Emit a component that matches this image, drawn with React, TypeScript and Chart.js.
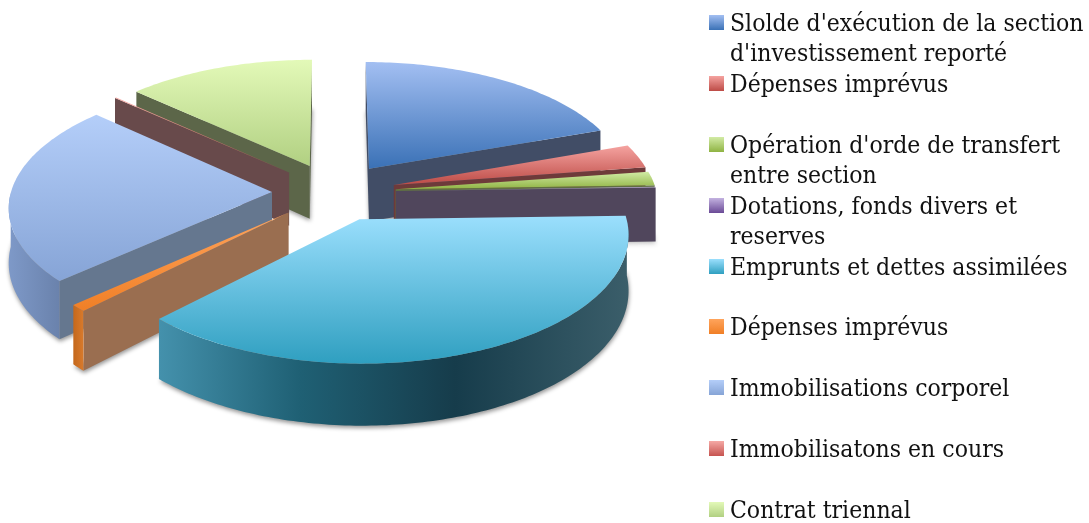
import React, { useEffect, useRef } from "react";
import { Chart, registerables } from "chart.js";

Chart.register(...registerables);

const categories = [
  "Slolde d'exécution de la section\nd'investissement reporté",
  "Dépenses imprévus",
  "Opération d'orde de transfert\nentre section",
  "Dotations, fonds divers et\nreserves",
  "Emprunts et dettes assimilées",
  "Dépenses imprévus",
  "Immobilisations corporel",
  "Immobilisatons en cours",
  "Contrat triennal",
];
const values = [19.5, 3.1, 1.8, 0.1, 37.7, 0.9, 23.5, 0.1, 13.1];

const topLight = ["#a3bff2", "#f5a3a0", "#d2eba5", "#c3b2e0", "#9bdffd", "#ffa45c", "#b4cef9", "#f5a9a5", "#e3f9b8"];
const topDark = ["#3a71b6", "#bd4b46", "#8fb343", "#6a4a96", "#2f9fc0", "#f07f26", "#86a4d6", "#c65450", "#b1d082"];
const sideColor = ["#414d66", "#6e3a3a", "#5f6f42", "#50465c", "#1f5566", "#9a6e50", "#65778f", "#684a4b", "#5c6649"];
const arcStops: string[][] = [
  ["#4a6a9c", "#4a6a9c"],
  ["#8a3c38", "#8a3c38"],
  ["#7a9438", "#7a9438"],
  ["#5a3f80", "#5a3f80"],
  ["#4491ac", "#1f6074", "#163c4b", "#3b5e6a"],
  ["#c4681c", "#d87a2c"],
  ["#7e99c8", "#6a82ac"],
  ["#9a4a48", "#9a4a48"],
  ["#8aa060", "#8aa060"],
];

const D = 2450;
const K = 0.47;
const DEPTH = 54;

const pie3d = {
  id: "pie3d",
  beforeDatasetsDraw(chart: any) {
    const ctx: CanvasRenderingContext2D = chart.ctx;
    const arcs: any[] = chart.getDatasetMeta(0).data;
    const cx = arcs[0].x;
    const cy = arcs[0].y;
    const R = arcs[0].outerRadius;
    const project = (X: number, Y: number, z: number): [number, number] => {
      const s = 1 / (1 - Y / D);
      return [cx + X * s, cy + K * Y * s + z * s];
    };
    const slices = arcs.map((el, i) => {
      const a0 = el.startAngle + Math.PI / 2;
      const a1 = el.endAngle + Math.PI / 2;
      const mid = (a0 + a1) / 2;
      const off = el.options.offset;
      return { i, a0, a1, ax: off * Math.sin(mid), ay: -off * Math.cos(mid) };
    });
    const trace = (pts: [number, number][]) => {
      ctx.beginPath();
      pts.forEach((p, n) => (n ? ctx.lineTo(p[0], p[1]) : ctx.moveTo(p[0], p[1])));
      ctx.closePath();
    };
    const area = (pts: [number, number][]) =>
      pts.reduce((sum, p, n) => {
        const q = pts[(n + 1) % pts.length];
        return sum + p[0] * q[1] - q[0] * p[1];
      }, 0);

    [...slices].sort((a, b) => a.ay - b.ay).forEach((sl) => {
      const { i, a0, a1, ax, ay } = sl;
      const at = (t: number, z: number) =>
        project(ax + R * Math.sin(t), ay - R * Math.cos(t), z);
      const apex = (z: number) => project(ax, ay, z);
      const steps = Math.max(2, Math.ceil((a1 - a0) / (Math.PI / 180)));
      const angles: number[] = [];
      for (let n = 0; n <= steps; n++) angles.push(a0 + ((a1 - a0) * n) / steps);
      const polyAt = (z: number) => [apex(z), ...angles.map((t) => at(t, z))];

      // soft shadow under the slab
      ctx.save();
      ctx.filter = "blur(2px)";
      ctx.fillStyle = "rgba(0,0,0,0.42)";
      trace(polyAt(DEPTH + 2).map((p) => [p[0] + 0.5, p[1]] as [number, number]));
      ctx.fill();
      ctx.restore();

      // radial walls
      const startWall = [apex(0), at(a0, 0), at(a0, DEPTH), apex(DEPTH)];
      const endWall = [apex(0), at(a1, 0), at(a1, DEPTH), apex(DEPTH)];
      ctx.fillStyle = sideColor[i];
      if (area(startWall) < 0) {
        trace(startWall);
        ctx.fill();
      }
      if (area(endWall) > 0) {
        trace(endWall);
        ctx.fill();
      }

      // rim
      const front = angles.filter((t) => Math.cos(t) <= 0);
      if (front.length > 1) {
        const upper = front.map((t) => at(t, 0));
        const lower = front.map((t) => at(t, DEPTH)).reverse();
        const xs = upper.map((p) => p[0]);
        const g = ctx.createLinearGradient(Math.min(...xs), 0, Math.max(...xs), 0);
        const st = arcStops[i];
        if (st.length === 4) {
          g.addColorStop(0, st[0]);
          g.addColorStop(0.3, st[1]);
          g.addColorStop(0.63, st[2]);
          g.addColorStop(1, st[3]);
        } else {
          st.forEach((c, n) => g.addColorStop(n / (st.length - 1), c));
        }
        ctx.fillStyle = g;
        trace([...upper, ...lower]);
        ctx.fill();
      }

      // top face
      const top = polyAt(0);
      const ys = top.map((p) => p[1]);
      const g = ctx.createLinearGradient(0, Math.min(...ys), 0, Math.max(...ys));
      g.addColorStop(0, topLight[i]);
      g.addColorStop(1, topDark[i]);
      ctx.fillStyle = g;
      trace(top);
      ctx.fill();
    });
    return false;
  },
};

export default function App() {
  const ref = useRef<HTMLCanvasElement>(null);
  useEffect(() => {
    const chart = new Chart(ref.current!, {
      type: "pie",
      data: {
        labels: categories.map((c) => c.replace("\n", " ")),
        datasets: [{ data: values, backgroundColor: topDark, borderWidth: 0, offset: 62 }],
      },
      options: {
        animation: false,
        responsive: false,
        radius: 261,
        layout: { padding: { right: 421, bottom: 139 } },
        plugins: { legend: { display: false }, tooltip: { enabled: false } },
      } as any,
      plugins: [pie3d],
    });
    return () => chart.destroy();
  }, []);
  return (
    <div style={{ position: "absolute", left: 0, top: 0, width: 1089, height: 523, overflow: "hidden", background: "#fff" }}>
      <canvas ref={ref} width={1089} height={523} style={{ position: "absolute", left: 0, top: 0 }} />
      <div style={{ position: "absolute", left: 709, top: 8, width: 380, fontFamily: "'DejaVu Serif Condensed', 'DejaVu Serif', serif", fontSize: 24.5, lineHeight: "30.45px", color: "#111" }}>
        {categories.map((c, i) => (
          <div key={i} style={{ height: 60.9, position: "relative", whiteSpace: "pre", paddingLeft: 21 }}>
            <span style={{ position: "absolute", left: 0, top: 7, width: 15, height: 15, background: `linear-gradient(${topLight[i]}, ${topDark[i]})` }} />
            {c}
          </div>
        ))}
      </div>
    </div>
  );
}
